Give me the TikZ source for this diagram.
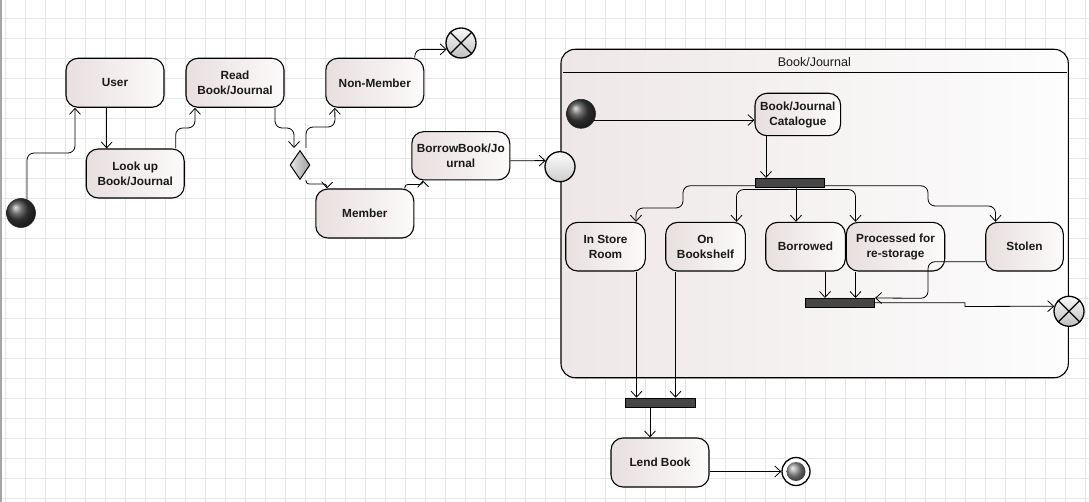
\documentclass[tikz,border=0pt]{standalone}
\usepackage{fontspec}
\setmainfont{Liberation Sans}
\usetikzlibrary{arrows.meta,shapes.geometric,calc}
\definecolor{gridc}{RGB}{230,230,230}
\definecolor{boxl}{RGB}{232,223,223}
\definecolor{boxr}{RGB}{252,250,250}
\definecolor{compl}{RGB}{238,231,231}
\definecolor{compr}{RGB}{253,253,253}
\definecolor{barc}{RGB}{70,70,70}
\newcommand{\statefont}{\bfseries\fontsize{11.8}{15}\selectfont}
\newcommand{\titlefont}{\fontsize{12.5}{15}\selectfont}
\begin{document}
\begin{tikzpicture}[x=1pt,y=-1pt,
  state/.style={draw=black, line width=1.1pt, rounded corners=12pt, left color=boxl, right color=boxr,
    minimum width=98pt, minimum height=49pt, inner sep=1pt, align=center, font=\statefont, text=black!90},
  composite/.style={draw=black, line width=1.1pt, rounded corners=14pt, left color=compl, right color=compr,
    minimum width=507.3pt, minimum height=328.4pt, inner sep=0pt},
  initnode/.style={circle, minimum size=29pt, inner sep=0pt, shading=ball, ball color=black!75, draw=black!85, line width=0.6pt},
  xnode/.style={circle, minimum size=30pt, inner sep=0pt, draw=black, line width=1.3pt, top color=gray!5, bottom color=gray!50},
  entrynode/.style={circle, minimum size=30pt, inner sep=0pt, draw=black, line width=1.3pt, top color=white, bottom color=gray!40},
  finalnode/.style={circle, minimum size=28pt, inner sep=0pt, draw=black, line width=1.3pt, fill=white},
  finalin/.style={circle, minimum size=19pt, inner sep=0pt, shading=ball, ball color=gray!85},
  decision/.style={diamond, minimum width=20pt, minimum height=29pt, inner sep=0pt, draw=black, line width=1pt, left color=gray!20, right color=gray!75},
  barnode/.style={rectangle, fill=barc, draw=black, line width=0.6pt, minimum width=69pt, minimum height=9pt, inner sep=0pt},
  conn/.style={line width=0.8pt, -{Straight Barb[length=6pt,width=11pt]}, rounded corners=7pt},
  xcross/.style={line width=1.3pt}
]
\useasboundingbox (0,0) rectangle (1089,502);
\fill[white] (0,0) rectangle (1089,502);
\foreach \i in {0,...,54} \draw[gridc,line width=0.8pt] ({5+20*\i},0) -- ({5+20*\i},502);
\foreach \j in {0,...,24} \draw[gridc,line width=0.8pt] (0,{18+20*\j}) -- (1089,{18+20*\j});
\draw[gray!70,line width=1.5pt] (0.75,0) -- (0.75,502);

% left part
\node[state] (user) at (115,82.8) {User};
\node[state] (lookup) at (135.2,173.5) {Look up\\Book/Journal};
\node[state] (read) at (235,82.8) {Read\\Book/Journal};
\node[state] (nonmember) at (374.8,82.8) {Non-Member};
\node[state] (member) at (364.8,213.5) {Member};
\node[state, minimum height=48.3pt] (borrow) at (460.8,155.8) {BorrowBook/Jo\\urnal};
\node[decision] (dia) at (300,165) {};
\node[xnode] (xtop) at (461,43) {};
\draw[xcross] (xtop.45) -- (xtop.225) (xtop.135) -- (xtop.315);
\node[initnode] (init) at (21,213) {};

% composite
\node[composite] (comp) at (814.65,213.5) {};
\node[font=\titlefont, text=black!90] (title) at (814.3,62) {Book/Journal};
\draw[line width=1pt] ([xshift=3pt,yshift=-24pt]comp.north west) -- ([xshift=-2pt,yshift=-24pt]comp.north east);
\node[entrynode] (entry) at (560,166.7) {};
\node[initnode] (iinit) at (581,113.8) {};
\node[state, minimum width=85.7pt, minimum height=42.4pt] (cat) at (797.8,114.5) {Book/Journal\\Catalogue};
\node[barnode] (bar1) at (789.7,182.8) {};
\node[state, minimum width=79.6pt, minimum height=48.7pt] (instore) at (605.5,246.7) {In Store\\Room};
\node[state, minimum width=79.6pt, minimum height=48.7pt] (shelf) at (705.5,246.7) {On\\Bookshelf};
\node[state, minimum width=79.6pt, minimum height=48.7pt] (borrowed) at (805.5,246.7) {Borrowed};
\node[state, minimum width=98.4pt, minimum height=48.7pt] (processed) at (895.5,246.7) {Processed for\\re-storage};
\node[state, minimum width=77.6pt, minimum height=48.7pt] (stolen) at (1024.5,246.7) {Stolen};
\node[barnode, minimum width=69.7pt] (bar2) at (839.9,302.8) {};
\node[xnode] (xright) at (1069,311.3) {};
\draw[xcross] (xright.45) -- (xright.225) (xright.135) -- (xright.315);
\node[barnode, minimum width=70pt] (bar3) at (660,402.5) {};
\node[state] (lend) at (660,462.5) {Lend Book};
\node[finalnode] (final) at (796,471.5) {};
\node[finalin] (finalcore) at (final.center) {};

% connectors left
\draw[conn] (init.66) |- (75,153) -- ([xshift=-40pt]user.south);
\draw[conn] ([xshift=-8.3pt]user.south) -- ([xshift=-28.5pt]lookup.north);
\draw[conn] ([xshift=40.5pt]lookup.north) |- (195,128) -- ([xshift=-40pt]read.south);
\draw[conn] ([xshift=40pt]read.south) |- (294,128) -- ([xshift=-6pt,yshift=2pt]dia.north);
\draw[conn] ([xshift=6pt,yshift=2pt]dia.north) |- (335,127) -- ([xshift=-40pt]nonmember.south);
\draw[conn, rounded corners=3pt] ([xshift=6pt]dia.south) |- (327,184) -- ([xshift=-38pt]member.north);
\draw[conn, rounded corners=3pt] ([xshift=40pt]member.north) |- (423,184.5) -- ([xshift=-38pt]borrow.south);
\draw[conn] ([yshift=-5pt]borrow.east) -- (entry.157);
\draw[conn] ([xshift=40pt]nonmember.north) |- (xtop.204);

% connectors composite
\draw[conn] (iinit.-25) -- (iinit.-25 -| cat.west);
\draw[conn] ([xshift=-31.8pt]cat.south) -- ([xshift=-23.7pt]bar1.north);
\draw[conn] ([yshift=-3pt]bar1.west) -| (683,208) -| ([xshift=30.5pt]instore.north);
\draw[conn] ([yshift=-2pt]bar1.south) -| ([xshift=31pt]shelf.north);
\draw[conn] ([xshift=6.3pt]bar1.south) -- ([xshift=-9.5pt]borrowed.north);
\draw[conn] ([yshift=-2pt]bar1.south) -| ([xshift=-40pt]processed.north);
\draw[conn] ([yshift=-3pt]bar1.east) -| (928,206) -| ([xshift=-29pt]stolen.north);
\draw[conn] ([xshift=19.5pt]borrowed.south) -- ([xshift=-14.9pt]bar2.north);
\draw[conn] ([xshift=-40pt]processed.south) -- ([xshift=15.6pt]bar2.north);
\draw[conn] ([yshift=-15pt]stolen.west) -| (928,298.3) -- (bar2.north east);
\draw[conn, rounded corners=0pt] (bar2.east) -- (965,302.8) -- (965,306.5) -- (xright.161);
\draw[conn] ([xshift=31pt]instore.south) -- ([xshift=-23.5pt]bar3.north);
\draw[conn] ([xshift=-30pt]shelf.south) -- ([xshift=15.5pt]bar3.north);
\draw[conn] ([xshift=-10pt]bar3.south) -- ([xshift=-10pt]lend.north);
\draw[conn] ([yshift=-9pt]lend.east) -- (final.west);
\end{tikzpicture}
\end{document}
